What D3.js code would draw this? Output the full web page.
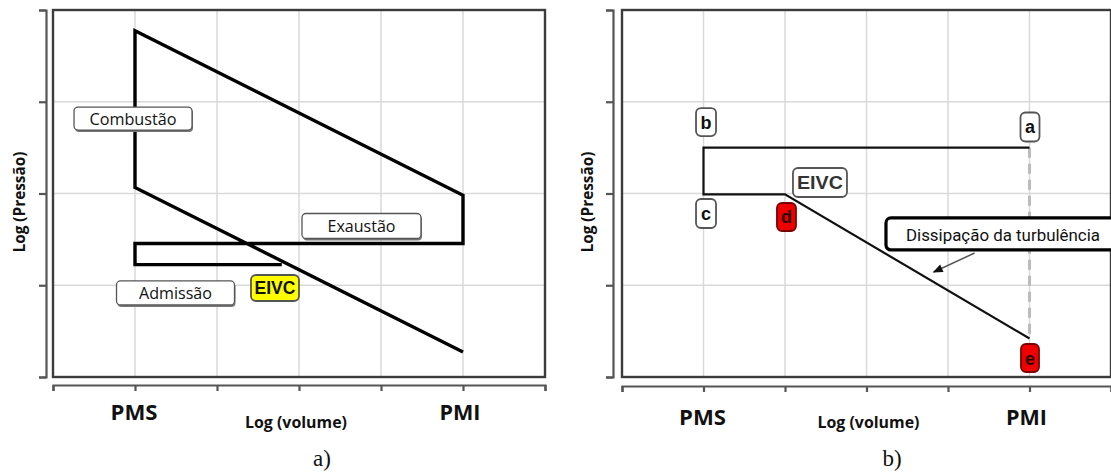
<!DOCTYPE html>
<html>
<head>
<meta charset="utf-8">
<script src="https://cdn.jsdelivr.net/npm/d3@7"></script>
<style>
  html, body { margin: 0; padding: 0; background: #fff; overflow: hidden; }
  svg { display: block; font-family: "Open Sans", Lato, sans-serif; }
</style>
</head>
<body>
<svg id="chart" width="1111" height="473"></svg>
<script>
//

// grid divisions shared by both panels (log scales, no numbers shown)
const xGrid = [0, 1, 2, 3, 4, 5, 6]
const yGrid = [0, 1, 2, 3, 4]
const xTickLabels = ['PMS', 'PMI']
const xTickAt = [1, 5]

// a) ciclo completo, one polyline
const cycleX = [2.79, 1, 1, 5, 5, 1, 1, 5]
const cycleY = [1.225, 1.225, 1.455, 1.455, 1.98, 3.775, 2.066, 0.273]

// b) detalhe: a -> b -> c -> d -> e
const detailX = [5, 1, 1, 2, 5]
const detailY = [2.5, 2.5, 1.99, 1.99, 0.42]
const dashX = [5, 5]
const dashY = [2.5, 0.42]

// callouts, placed in data units
const notesA = [
  { text: 'Combustão', x: 0.976, y: 2.817, w: 118, h: 23, kind: 'plain', tl: 87 },
  { text: 'Exaustão', x: 3.762, y: 1.646, w: 119, h: 25, kind: 'plain', tl: 68 },
  { text: 'Admissão', x: 1.494, y: 0.916, w: 118, h: 24, kind: 'plain', tl: 73 },
  { text: 'EIVC', x: 2.707, y: 0.970, w: 48, h: 26, kind: 'yellow', tl: 41 }
]
const notesB = [
  { text: 'b', x: 1.031, y: 2.779, w: 20, h: 28, kind: 'letter' },
  { text: 'a', x: 5.006, y: 2.725, w: 19, h: 29, kind: 'letter' },
  { text: 'c', x: 1.031, y: 1.782, w: 20, h: 29, kind: 'letter' },
  { text: 'd', x: 2.018, y: 1.744, w: 19, h: 28, kind: 'red' },
  { text: 'e', x: 5.006, y: 0.207, w: 18, h: 28, kind: 'red' },
  { text: 'EIVC', x: 2.429, y: 2.12, w: 54, h: 29, kind: 'bold', tl: 46 }
]
const turbNote = { text: 'Dissipação da turbulência', x: 3.239, y: 1.559, tl: 194 }
const turbArrowX = [4.326, 3.824]
const turbArrowY = [1.351, 1.144]

//

const svg = d3.select('#chart')

svg.append('defs').append('marker')
  .attr('id', 'head')
  .attr('viewBox', '0 0 10 8')
  .attr('refX', 9)
  .attr('refY', 4)
  .attr('markerWidth', 11)
  .attr('markerHeight', 8)
  .attr('markerUnits', 'userSpaceOnUse')
  .attr('orient', 'auto')
  .append('path')
  .attr('d', 'M0,0L10,4L0,8z')
  .attr('fill', '#111')

function panel (opts) {
  const x = d3.scaleLinear().domain([0, 6]).range(opts.xRange)
  const y = d3.scaleLinear().domain([0, 4]).range([377, 10])
  const g = svg.append('g')

  // grid
  g.append('g').selectAll('line')
    .data(xGrid.slice(1, -1))
    .join('line')
    .attr('x1', d => x(d)).attr('x2', d => x(d))
    .attr('y1', y(0)).attr('y2', y(4))
    .attr('stroke', '#d9d9d9').attr('stroke-width', 1.5)
  g.append('g').selectAll('line')
    .data(yGrid.slice(1, -1))
    .join('line')
    .attr('x1', x(0)).attr('x2', x(6))
    .attr('y1', d => y(d)).attr('y2', d => y(d))
    .attr('stroke', '#d9d9d9').attr('stroke-width', 1.5)

  // frame
  g.append('rect')
    .attr('x', x(0)).attr('y', y(4))
    .attr('width', x(6) - x(0)).attr('height', y(0) - y(4))
    .attr('fill', 'none').attr('stroke', '#3c3c3c').attr('stroke-width', 2.4)

  // axes, offset from the frame
  const yAxis = d3.axisLeft(y).tickValues(yGrid).tickSize(7).tickFormat('')
  g.append('g')
    .attr('transform', `translate(${opts.yAxisX},0)`)
    .call(yAxis)
    .call(s => s.selectAll('path,line').attr('stroke', '#555').attr('stroke-width', 2.2))

  const xAxis = d3.axisBottom(x).tickValues(xGrid).tickSize(6).tickFormat('')
  g.append('g')
    .attr('transform', `translate(0,${opts.xAxisY})`)
    .call(xAxis)
    .call(s => s.selectAll('path,line').attr('stroke', '#555').attr('stroke-width', 2.2))

  g.selectAll('text.tick-label')
    .data(xTickLabels)
    .join('text')
    .attr('class', 'tick-label')
    .attr('x', (d, i) => x(xTickAt[i]) - (i ? 3 : 1))
    .attr('y', opts.tickBase)
    .attr('text-anchor', 'middle')
    .attr('font-size', 21).attr('font-weight', 700)
    .attr('textLength', (d, i) => i ? 41 : 47).attr('lengthAdjust', 'spacingAndGlyphs')
    .attr('fill', '#111')
    .text(d => d)

  g.append('text')
    .attr('x', x(3) + opts.xTitleDx).attr('y', 428)
    .attr('text-anchor', 'middle')
    .attr('font-size', 15.5).attr('font-weight', 700)
    .attr('textLength', 102).attr('lengthAdjust', 'spacingAndGlyphs')
    .attr('fill', '#111')
    .text('Log (volume)')

  g.append('text')
    .attr('transform', `translate(${opts.yTitleX},202) rotate(-90)`)
    .attr('text-anchor', 'middle')
    .attr('font-size', 15.5).attr('font-weight', 700)
    .attr('textLength', 101).attr('lengthAdjust', 'spacingAndGlyphs')
    .attr('fill', '#111')
    .text('Log (Pressão)')

  g.append('text')
    .attr('x', opts.captionX).attr('y', 466)
    .attr('text-anchor', 'middle')
    .attr('font-family', '"Liberation Serif", serif')
    .attr('font-size', 23)
    .attr('fill', '#111')
    .text(opts.caption)

  return { g, x, y }
}

function notes (p, list) {
  const boxes = p.g.append('g').selectAll('g')
    .data(list)
    .join('g')
    .attr('transform', d => `translate(${p.x(d.x)},${p.y(d.y)})`)

  boxes.filter(d => d.kind === 'plain')
    .append('rect')
    .attr('x', d => -d.w / 2 + 1).attr('y', d => -d.h / 2 + 2)
    .attr('width', d => d.w).attr('height', d => d.h)
    .attr('rx', 4).attr('fill', '#777')

  boxes.append('rect')
    .attr('x', d => -d.w / 2).attr('y', d => -d.h / 2)
    .attr('width', d => d.w).attr('height', d => d.h)
    .attr('rx', d => d.kind === 'plain' ? 4 : 5)
    .attr('fill', d => ({ yellow: '#ffff00', red: '#ee0000' })[d.kind] || '#fff')
    .attr('stroke', d => d.kind === 'red' ? '#7a0000' : '#555')
    .attr('stroke-width', d => d.kind === 'plain' ? 1.3 : 1.8)

  boxes.append('text')
    .attr('text-anchor', 'middle')
    .attr('dy', d => d.kind === 'plain' ? 6 : (d.kind === 'yellow' ? 6 : 6.5))
    .attr('font-size', d => d.kind === 'plain' ? 16.5 : 18)
    .attr('font-weight', d => d.kind === 'plain' ? 400 : 700)
    .attr('font-family', d => d.kind === 'plain' ? null : '"Liberation Sans", Arial, sans-serif')
    .attr('textLength', d => d.tl || null)
    .attr('lengthAdjust', 'spacingAndGlyphs')
    .attr('fill', d => d.kind === 'bold' ? '#333' : (d.kind === 'red' ? '#2a0000' : '#111'))
    .text(d => d.text)
}

const line = d3.line()

// a)
const pa = panel({ xRange: [53, 545], yAxisX: 46, xAxisY: 385, tickBase: 420, xTitleDx: -3, yTitleX: 25, captionX: 322, caption: 'a)' })
pa.g.append('path')
  .attr('d', line(cycleX.map((v, i) => [pa.x(v), pa.y(cycleY[i])])))
  .attr('fill', 'none').attr('stroke', '#000')
  .attr('stroke-width', 3.4).attr('stroke-linejoin', 'miter')
notes(pa, notesA)

// b)
const pb = panel({ xRange: [622, 1111], yAxisX: 613, xAxisY: 386, tickBase: 425, xTitleDx: 2, yTitleX: 593, captionX: 892, caption: 'b)' })
pb.g.append('path')
  .attr('d', line(dashX.map((v, i) => [pb.x(v), pb.y(dashY[i])])))
  .attr('stroke', '#bbb').attr('stroke-width', 3)
  .attr('stroke-dasharray', '10,6')
pb.g.append('path')
  .attr('d', line(detailX.map((v, i) => [pb.x(v), pb.y(detailY[i])])))
  .attr('fill', 'none').attr('stroke', '#111')
  .attr('stroke-width', 2.2).attr('stroke-linejoin', 'miter')

// callout box runs off the right edge: draw it open on that side
const tx = pb.x(turbNote.x)
const ty = pb.y(turbNote.y)
const edge = pb.x(6)
pb.g.append('path')
  .attr('d', `M${edge},${ty - 16}H${tx + 5}a5,5 0 0 0 -5,5V${ty + 11}a5,5 0 0 0 5,5H${edge}`)
  .attr('fill', '#fff')
  .attr('stroke', '#000').attr('stroke-width', 3.2)
pb.g.append('text')
  .attr('x', tx + 20).attr('y', ty + 7)
  .attr('font-family', 'Roboto, sans-serif')
  .attr('font-size', 17)
  .attr('textLength', turbNote.tl).attr('lengthAdjust', 'spacingAndGlyphs')
  .attr('fill', '#111')
  .text(turbNote.text)
pb.g.append('path')
  .attr('d', line(turbArrowX.map((v, i) => [pb.x(v), pb.y(turbArrowY[i])])))
  .attr('stroke', '#555').attr('stroke-width', 1.5)
  .attr('marker-end', 'url(#head)')

notes(pb, notesB)
</script>
</body>
</html>
